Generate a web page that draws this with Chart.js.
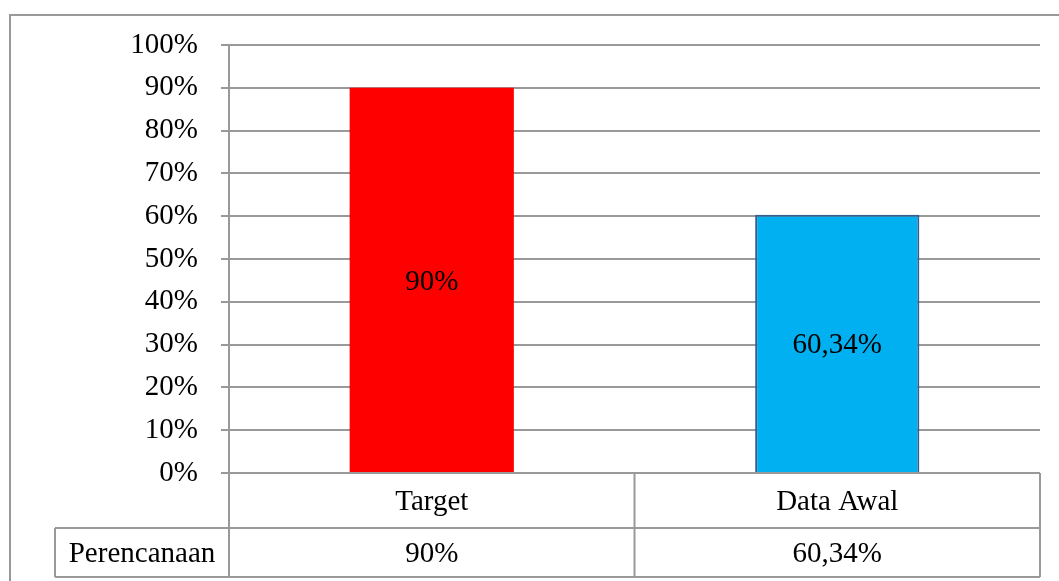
<!DOCTYPE html>
<html>
<head>
<meta charset="utf-8">
<title>Perencanaan</title>
<script src="https://cdn.jsdelivr.net/npm/chart.js@4.4.1/dist/chart.umd.min.js"></script>
<style>
    html, body { margin: 0; padding: 0; background: #ffffff; }
    canvas { display: block; }
</style>
</head>
<body>
<canvas id="chart" width="1059" height="581"></canvas>
<script>
// Veri
const categories = ['Target', 'Data Awal'];
const values = [90, 60.34];
const rowLabel = 'Perencanaan';
const barColors = ['#ff0000', '#00b0f0'];
const barBorders = ['#ff0000', '#385d8a'];
const yTicks = [0, 10, 20, 30, 40, 50, 60, 70, 80, 90, 100];

const FONT = "'Liberation Serif', 'Times New Roman', serif";
const LINE = '#999999';

function formatPercent(v) {
    return String(v).replace('.', ',') + '%';
}

// Çubuk içindeki etiketler
const barLabelPlugin = {
    id: 'barLabels',
    afterDatasetsDraw(chart) {
        const ctx = chart.ctx;
        const meta = chart.getDatasetMeta(0);
        ctx.save();
        ctx.font = '29px ' + FONT;
        ctx.fillStyle = '#000000';
        ctx.textAlign = 'center';
        ctx.textBaseline = 'middle';
        meta.data.forEach((bar, i) => {
            ctx.fillText(formatPercent(values[i]), bar.x, (bar.y + bar.base) / 2 + 2);
        });
        ctx.restore();
    }
};

// Veri tablosu ve çerçeve
const dataTablePlugin = {
    id: 'dataTable',
    afterDraw(chart) {
        const ctx = chart.ctx;
        const area = chart.chartArea;
        const x = chart.scales.x;
        const half = (area.right - area.left) / categories.length / 2;
        const row1 = area.bottom + 55;
        const row2 = row1 + 49;
        const labelLeft = 55;

        ctx.save();
        ctx.strokeStyle = LINE;
        ctx.lineWidth = 2;

        // dış çerçeve
        ctx.beginPath();
        ctx.moveTo(10, chart.height + 2);
        ctx.lineTo(10, 15);
        ctx.lineTo(chart.width + 2, 15);
        ctx.stroke();

        ctx.beginPath();
        // eksen çizgisinin uzantısı
        ctx.moveTo(area.left, area.bottom);
        ctx.lineTo(area.left, row2);
        // kategori sınırları
        categories.forEach((c, i) => {
            const right = x.getPixelForValue(i) + half;
            ctx.moveTo(right, area.bottom);
            ctx.lineTo(right, row2);
        });
        // yatay çizgiler
        ctx.moveTo(labelLeft, row1);
        ctx.lineTo(area.right, row1);
        ctx.moveTo(labelLeft, row2);
        ctx.lineTo(area.right, row2);
        ctx.moveTo(labelLeft, row1);
        ctx.lineTo(labelLeft, row2);
        ctx.stroke();

        // metinler
        ctx.font = '29px ' + FONT;
        ctx.fillStyle = '#000000';
        ctx.textAlign = 'center';
        ctx.textBaseline = 'middle';
        categories.forEach((c, i) => {
            const cx = x.getPixelForValue(i);
            ctx.fillText(c, cx, (area.bottom + row1) / 2 + 2);
            ctx.fillText(formatPercent(values[i]), cx, (row1 + row2) / 2 + 2);
        });
        ctx.fillText(rowLabel, (labelLeft + area.left) / 2, (row1 + row2) / 2 + 2);
        ctx.restore();
    }
};

function createChart() {
    const ctx = document.querySelector('#chart').getContext('2d');
    new Chart(ctx, {
        type: 'bar',
        data: {
            labels: categories,
            datasets: [{
                data: values,
                backgroundColor: barColors,
                borderColor: barBorders,
                borderWidth: [0, 2],
                barPercentage: 0.405,
                categoryPercentage: 1
            }]
        },
        options: {
            responsive: false,
            animation: false,
            devicePixelRatio: 1,
            layout: {
                padding: { top: 45, right: 19, bottom: 108, left: 0 }
            },
            plugins: {
                legend: { display: false },
                tooltip: { enabled: false }
            },
            scales: {
                x: {
                    display: false
                },
                y: {
                    min: 0,
                    max: 100,
                    afterFit(scale) { scale.width = 229; },
                    afterBuildTicks(scale) {
                        scale.ticks = yTicks.map(v => ({ value: v }));
                    },
                    ticks: {
                        callback: v => v + '%',
                        color: '#000000',
                        font: { family: FONT, size: 29 },
                        padding: 23
                    },
                    grid: {
                        color: LINE,
                        lineWidth: 2,
                        tickLength: 8
                    },
                    border: { color: LINE, width: 2 }
                }
            }
        },
        plugins: [barLabelPlugin, dataTablePlugin]
    });
}

document.addEventListener('DOMContentLoaded', createChart);
</script>
</body>
</html>
